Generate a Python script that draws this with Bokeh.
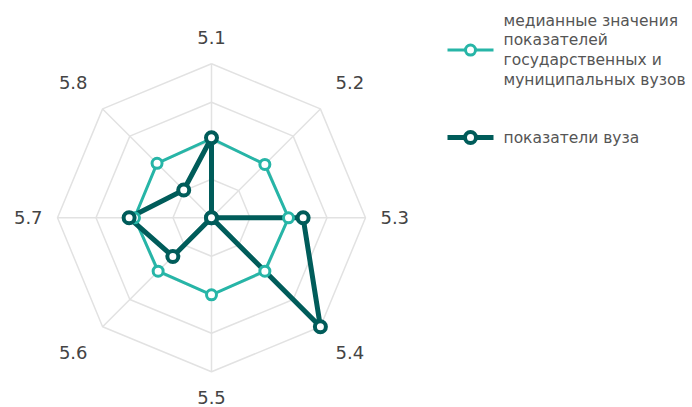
import numpy as np
from bokeh.plotting import figure
from bokeh.models import Range1d
from bokeh.embed import file_html
from bokeh.resources import INLINE
from bokeh.core.properties import value

# ---- data ----
axis_labels = ["5.1", "5.2", "5.3", "5.4", "5.5", "5.6", "5.7", "5.8"]
median_values = [0.515, 0.49, 0.50, 0.49, 0.50, 0.49, 0.50, 0.50]
univ_values = [0.52, 0.0, 0.595, 1.0, 0.0, 0.355, 0.535, 0.255]
ring_levels = [0.25, 0.5, 0.75, 1.0]
median_name_lines = ["медианные значения", "показателей",
                     "государственных и", "муниципальных вузов"]
univ_name_lines = ["показатели вуза"]

TEAL = "#27b5a7"
DARK = "#005c5a"
GRID = "#e2e2e2"
FONT = "DejaVu Sans"

W, H = 692, 407
cx_px, cy_px, R_px = 211.0, 217.3, 154.0

p = figure(width=W, height=H, output_backend="svg", toolbar_location=None,
           x_range=Range1d(-cx_px / R_px, (W - cx_px) / R_px),
           y_range=Range1d(-(H - cy_px) / R_px, cy_px / R_px),
           min_border=0)
p.axis.visible = False
p.grid.visible = False
p.outline_line_color = None

def px(x):  # page pixel -> data x (for legend layout only)
    return (x - cx_px) / R_px

def py(y):  # page pixel -> data y (for legend layout only)
    return (cy_px - y) / R_px

n = len(axis_labels)
theta = np.pi / 2 - np.arange(n) * 2 * np.pi / n
cos, sin = np.cos(theta), np.sin(theta)

# grid rings
ring_xs = [list(np.append(r * cos, r * cos[0])) for r in ring_levels]
ring_ys = [list(np.append(r * sin, r * sin[0])) for r in ring_levels]
p.multi_line(ring_xs, ring_ys, line_color=GRID, line_width=1.5)
# spokes
p.segment(x0=np.zeros(n), y0=np.zeros(n), x1=cos * max(ring_levels),
          y1=sin * max(ring_levels), line_color=GRID, line_width=1.5)

def closed(vals):
    v = np.asarray(vals, dtype=float)
    return np.append(v * cos, v[0] * cos[0]), np.append(v * sin, v[0] * sin[0])

mx, my = closed(median_values)
ux, uy = closed(univ_values)

p.line(mx, my, line_color=TEAL, line_width=3)
p.line(ux, uy, line_color=DARK, line_width=5)
p.scatter(mx[:-1], my[:-1], size=10, fill_color="white", line_color=TEAL, line_width=3)
p.scatter(ux[:-1], uy[:-1], size=11, fill_color="white", line_color=DARK, line_width=4)

# axis labels
diag = np.abs(np.sin(2 * theta))
lx = cos * (1.19 + 0.08 * diag)
ly = sin * (1.17 + 0.07 * diag)
p.text(lx, ly, text=axis_labels, text_align="center", text_baseline="middle",
       text_font=value(FONT), text_font_size="18px", text_color="#444444")

# ---- legend (drawn manually) ----
line_h = 19.7
g_x0, g_x1, t_x = 447, 493, 503
entries = [(median_name_lines, TEAL, 3, 10, 3, 20.0),
           (univ_name_lines, DARK, 5, 11, 4, 137.0)]
for lines, col, lw, msize, mlw, top_y in entries:
    ys = [top_y + i * line_h for i in range(len(lines))]
    gy = (ys[0] + ys[-1]) / 2
    p.line([px(g_x0), px(g_x1)], [py(gy), py(gy)], line_color=col, line_width=lw)
    p.scatter([px((g_x0 + g_x1) / 2)], [py(gy)], size=msize, fill_color="white",
              line_color=col, line_width=mlw)
    p.text([px(t_x)] * len(lines), [py(y) for y in ys], text=lines,
           text_align="left", text_baseline="middle", text_font=value(FONT),
           text_font_size="15.5px", text_color="#555555")

open("out.html", "w").write(file_html(p, INLINE))
